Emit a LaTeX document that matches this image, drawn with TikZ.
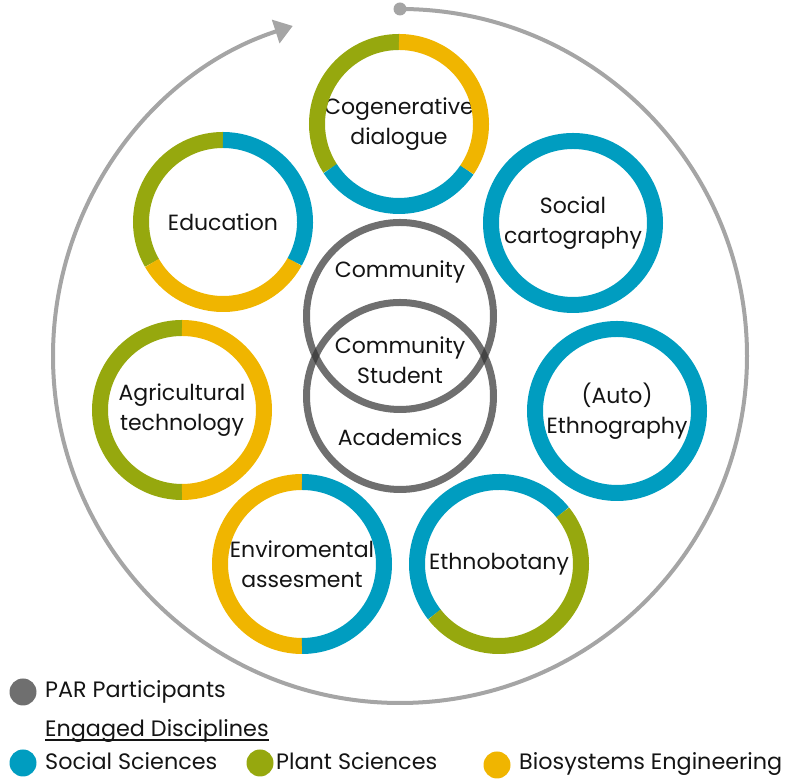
\documentclass[tikz,border=0pt]{standalone}
\usepackage{fontspec}
\setmainfont{Poppins}
\usepackage{tikz}
\definecolor{socialcolor}{RGB}{0,157,192}
\definecolor{plantcolor}{RGB}{150,168,14}
\definecolor{bioscolor}{RGB}{240,181,0}
\definecolor{parcolor}{RGB}{50,50,50}
\definecolor{cyclecolor}{RGB}{165,165,165}
\definecolor{textcolor}{RGB}{20,20,20}
\usetikzlibrary{arrows.meta, positioning, calc}

% one coloured piece of a method ring
\newcommand{\ringseg}[4]{\draw[ringline, #2] ($(#1)+(#3:82)$) arc[start angle=#3, end angle=#4, radius=82];}

\begin{document}
\begin{tikzpicture}[x=1pt, y=1pt,
    method/.style={circle, minimum size=164, align=center, text=textcolor, font=\fontsize{22}{30}\selectfont},
    ringline/.style={line width=16},
    party/.style={circle, draw=parcolor, draw opacity=0.7, line width=7, minimum size=187},
    partylabel/.style={align=center, text=textcolor, font=\fontsize{22}{30}\selectfont},
    legenddot/.style={circle, minimum size=27, inner sep=0},
    legendtext/.style={anchor=base west, inner sep=0, text=textcolor, font=\fontsize{22.3}{26}\selectfont},
    cyclearrow/.style={draw=cyclecolor, line width=4, -{Triangle[length=18, width=24]}}
]
    \useasboundingbox (0,0) rectangle (788,783);

    % Research cycle
    \node[circle, fill=cyclecolor, minimum size=13, inner sep=0] (start) at (400,774) {};
    \draw[cyclearrow] (start.center) arc[start angle=90, end angle=-252, radius=347];

    % Methods
    \node[method] (cogen) at (399,659) {Cogenerative\\dialogue};
    \node[method] (social) at (573,560) {Social\\cartography};
    \node[method] (auto) at (617,372) {(Auto)\\Ethnography};
    \node[method] (ethbot) at (499,219) {Ethnobotany};
    \node[method] (envir) at (302,219) {Enviromental\\assesment};
    \node[method] (agri) at (182,373) {Agricultural\\technology};
    \node[method] (edu) at (223,561) {Education};

    % Rings
    \ringseg{cogen}{plantcolor}{90}{213}
    \ringseg{cogen}{socialcolor}{213}{326}
    \ringseg{cogen}{bioscolor}{326}{450}
    \ringseg{social}{socialcolor}{90}{450}
    \ringseg{auto}{socialcolor}{90}{450}
    \ringseg{ethbot}{socialcolor}{39}{218}
    \ringseg{ethbot}{plantcolor}{218}{399}
    \ringseg{envir}{bioscolor}{90}{270}
    \ringseg{envir}{socialcolor}{270}{450}
    \ringseg{agri}{plantcolor}{90}{270}
    \ringseg{agri}{bioscolor}{270}{450}
    \ringseg{edu}{plantcolor}{90}{210}
    \ringseg{edu}{bioscolor}{210}{331}
    \ringseg{edu}{socialcolor}{331}{450}

    % PAR participants
    \node[party] (comm) at (400,467) {};
    \node[party] (acad) at (400,387) {};
    \node[partylabel] (commlabel) at (400,511) {Community};
    \node[partylabel] (bothlabel) at (400,423) {Community\\Student};
    \node[partylabel] (acadlabel) at (400,346) {Academics};

    % Legend
    \node[legenddot, fill=parcolor, fill opacity=0.7] (pardot) at (23,91) {};
    \node[legendtext] (partext) at (45,85) {PAR Participants};
    \node[legendtext] (engaged) at (45,46) {Engaged Disciplines};
    \draw[textcolor, line width=1.3] ([yshift=-3]engaged.base west) -- ([yshift=-3]engaged.base east);
    \node[legenddot, fill=socialcolor] (socialdot) at (23,20) {};
    \node[legendtext] (socialtext) at (45,13) {Social Sciences};
    \node[legenddot, fill=plantcolor] (plantdot) at (260,20) {};
    \node[legendtext] (planttext) at (276,13) {Plant Sciences};
    \node[legenddot, fill=bioscolor] (biosdot) at (497,18) {};
    \node[legendtext] (biostext) at (519,13) {Biosystems Engineering};
\end{tikzpicture}
\end{document}
